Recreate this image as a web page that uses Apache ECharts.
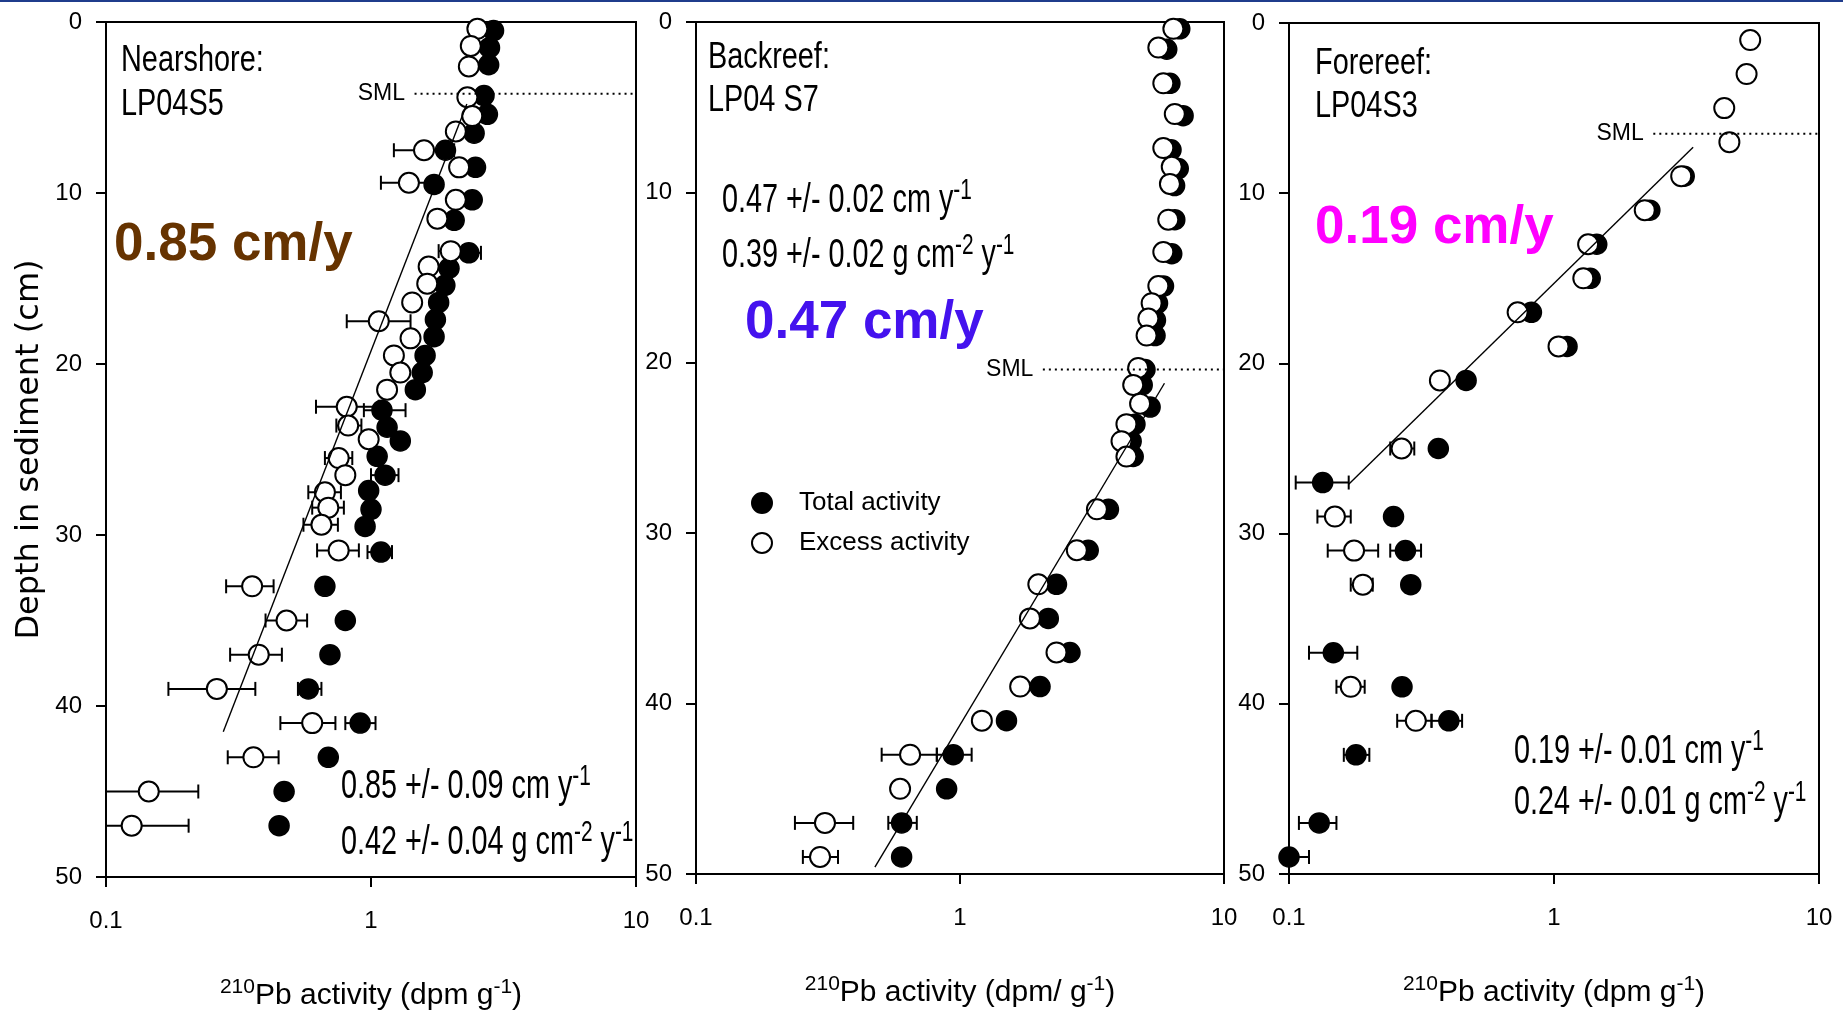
<!DOCTYPE html>
<html>
<head>
<meta charset="utf-8">
<title>210Pb activity profiles</title>
<script src="https://cdn.jsdelivr.net/npm/echarts@6/dist/echarts.min.js"></script>
<style>
  html, body { margin: 0; padding: 0; background: #ffffff; }
  #chart { width: 1843px; height: 1023px; }
</style>
</head>
<body>
<div id="chart"></div>
<script>
// ---- Data: [210Pb activity (dpm/g), depth (cm)] ----
const nearshoreTotal = [
  [2.90, 0.5], [2.80, 1.5], [2.78, 2.5], [2.67, 4.3], [2.75, 5.4], [2.45, 6.5], [1.91, 7.5],
  [2.48, 8.5], [1.73, 9.5], [2.41, 10.4], [2.06, 11.6], [2.34, 13.5], [1.97, 14.4], [1.90, 15.4],
  [1.80, 16.4], [1.75, 17.4], [1.73, 18.4], [1.60, 19.5], [1.56, 20.5], [1.47, 21.5], [1.10, 22.7],
  [1.15, 23.7], [1.29, 24.5], [1.055, 25.4], [1.13, 26.5], [0.98, 27.4], [1.00, 28.5], [0.95, 29.5],
  [1.09, 31], [0.67, 33], [0.80, 35], [0.70, 37], [0.58, 39], [0.91, 41], [0.69, 43], [0.47, 45], [0.45, 47]
];
const nearshoreExcess = [
  [2.52, 0.4], [2.38, 1.4], [2.34, 2.6], [2.31, 4.4], [2.41, 5.5], [2.09, 6.4], [1.585, 7.5],
  [2.15, 8.5], [1.39, 9.4], [2.09, 10.4], [1.78, 11.5], [2.00, 13.4], [1.65, 14.3], [1.63, 15.3],
  [1.43, 16.4], [1.07, 17.5], [1.41, 18.5], [1.22, 19.5], [1.29, 20.5], [1.15, 21.5], [0.81, 22.5],
  [0.82, 23.6], [0.98, 24.4], [0.755, 25.5], [0.80, 26.5], [0.67, 27.5], [0.69, 28.4], [0.65, 29.4],
  [0.755, 30.9], [0.356, 33], [0.48, 35], [0.377, 37], [0.262, 39], [0.60, 41], [0.36, 43], [0.145, 45], [0.125, 47]
];
// error bars: [depth, low, high]
const nearshoreTotalErr = [
  [13.5, 2.10, 2.60], [22.7, 0.94, 1.35], [26.5, 1.00, 1.27], [31, 0.97, 1.20], [39, 0.53, 0.65], [41, 0.80, 1.04]
];
const nearshoreExcessErr = [
  [7.5, 1.22, 2.06], [9.4, 1.09, 1.77], [13.4, 1.80, 2.22], [17.5, 0.81, 1.41], [22.5, 0.62, 1.07],
  [23.6, 0.74, 0.92], [25.5, 0.67, 0.85], [27.5, 0.58, 0.77], [28.4, 0.60, 0.79], [29.4, 0.556, 0.75],
  [30.9, 0.626, 0.90], [33, 0.284, 0.429], [35, 0.40, 0.574], [37, 0.294, 0.461], [39, 0.172, 0.366],
  [41, 0.455, 0.734], [43, 0.288, 0.448], [45, 0.10, 0.223], [47, 0.10, 0.205]
];
const nearshoreFit = [[2.30, 4.8], [0.277, 41.5]];
const nearshoreSml = [[1.46, 4.2], [10, 4.2]];

const backreefTotal = [
  [6.80, 0.4], [6.07, 1.6], [6.24, 3.6], [7.00, 5.5], [6.30, 7.5], [6.71, 8.6], [6.50, 9.6],
  [6.51, 11.6], [6.34, 13.6], [5.90, 15.5], [5.60, 16.5], [5.50, 17.5], [5.48, 18.4], [5.02, 20.4],
  [4.90, 21.3], [5.25, 22.6], [4.60, 23.6], [4.45, 24.6], [4.53, 25.5], [3.65, 28.6], [3.06, 31],
  [2.32, 33], [2.16, 35], [2.61, 37], [2.01, 39], [1.50, 41], [0.943, 43], [0.89, 45], [0.601, 47], [0.601, 49]
];
const backreefExcess = [
  [6.43, 0.4], [5.64, 1.5], [5.89, 3.6], [6.51, 5.4], [5.89, 7.4], [6.34, 8.5], [6.24, 9.5],
  [6.15, 11.6], [5.89, 13.5], [5.64, 15.5], [5.32, 16.5], [5.17, 17.4], [5.09, 18.4], [4.73, 20.3],
  [4.53, 21.3], [4.81, 22.4], [4.27, 23.6], [4.09, 24.6], [4.27, 25.5], [3.30, 28.6], [2.77, 31],
  [1.98, 33], [1.84, 35], [2.32, 37], [1.69, 39], [1.21, 41], [0.647, 43], [0.593, 45], [0.308, 47], [0.295, 49]
];
const backreefTotalErr = [[43, 0.817, 1.107], [47, 0.535, 0.686]];
const backreefExcessErr = [[43, 0.505, 0.817], [45, 0.56, 0.63], [47, 0.237, 0.394], [49, 0.254, 0.345]];
const backreefFit = [[5.95, 21.2], [0.476, 49.6]];
const backreefSml = [[2.06, 20.4], [10, 20.4]];

const forereefTotal = [
  [3.10, 9], [2.30, 11], [1.45, 13], [1.37, 15], [0.822, 17], [1.12, 19], [0.466, 21], [0.366, 25],
  [0.134, 27], [0.248, 29], [0.275, 31], [0.288, 33], [0.147, 37], [0.267, 39], [0.401, 41],
  [0.179, 43], [0.130, 47], [0.100, 49]
];
const forereefExcess = [
  [5.50, 1], [5.33, 3], [4.39, 5], [4.59, 7], [3.02, 9], [2.20, 11], [1.345, 13], [1.29, 15],
  [0.729, 17], [1.04, 19], [0.371, 21], [0.266, 25], [0.149, 29], [0.176, 31], [0.190, 33],
  [0.171, 39], [0.301, 41]
];
const forereefTotalErr = [
  [27, 0.106, 0.168], [31, 0.241, 0.315], [37, 0.119, 0.181], [41, 0.345, 0.45], [43, 0.161, 0.201],
  [47, 0.109, 0.151], [49, 0.100, 0.119]
];
const forereefExcessErr = [
  [25, 0.241, 0.297], [29, 0.128, 0.171], [31, 0.140, 0.217], [33, 0.171, 0.207], [39, 0.151, 0.193], [41, 0.256, 0.345]
];
const forereefFit = [[3.35, 7.3], [0.168, 27.1]];
const forereefSml = [[2.37, 6.5], [10, 6.5]];

const depthTicks = [0, 10, 20, 30, 40, 50];
const activityRange = [0.1, 10];

// ---- Styling ----
const SANS = "'Liberation Sans',Arial,sans-serif";
const NARROW_SCALE = 0.72;   // horizontal squeeze used for the condensed text blocks

const panels = [
  {
    grid: { left: 106, top: 22, width: 530, height: 855 },
    total: nearshoreTotal, excess: nearshoreExcess,
    totalErr: nearshoreTotalErr, excessErr: nearshoreExcessErr,
    fit: nearshoreFit, sml: nearshoreSml,
    xName: '{s|210}Pb activity (dpm g{s|-1})'
  },
  {
    grid: { left: 696, top: 22, width: 528, height: 852 },
    total: backreefTotal, excess: backreefExcess,
    totalErr: backreefTotalErr, excessErr: backreefExcessErr,
    fit: backreefFit, sml: backreefSml,
    xName: '{s|210}Pb activity (dpm/ g{s|-1})'
  },
  {
    grid: { left: 1289, top: 23, width: 530, height: 851 },
    total: forereefTotal, excess: forereefExcess,
    totalErr: forereefTotalErr, excessErr: forereefExcessErr,
    fit: forereefFit, sml: forereefSml,
    xName: '{s|210}Pb activity (dpm g{s|-1})'
  }
];

const axisLineStyle = { color: '#000', width: 2 };

const grids = [], xAxes = [], yAxes = [], series = [];

panels.forEach((p, i) => {
  grids.push(Object.assign({ show: true, borderColor: '#000', borderWidth: 2, backgroundColor: 'transparent' }, p.grid));

  xAxes.push({
    gridIndex: i, type: 'log', logBase: 10,
    min: activityRange[0], max: activityRange[1],
    axisLine: { show: true, onZero: false, lineStyle: axisLineStyle },
    axisTick: { show: true, inside: false, length: 10, lineStyle: axisLineStyle },
    minorTick: { show: false },
    splitLine: { show: false },
    axisLabel: {
      margin: 32, color: '#000', fontFamily: SANS, fontSize: 24,
      formatter: v => (v < 0.5 ? '0.1' : String(Math.round(v)))
    },
    name: p.xName,
    nameLocation: 'middle',
    nameGap: 100,
    nameTextStyle: {
      color: '#000', fontFamily: SANS, fontSize: 30, lineHeight: 38,
      rich: { s: { fontFamily: SANS, fontSize: 21, lineHeight: 21, verticalAlign: 'top', color: '#000' } }
    }
  });

  yAxes.push({
    gridIndex: i, type: 'value', inverse: true,
    min: depthTicks[0], max: depthTicks[depthTicks.length - 1], interval: 10,
    axisLine: { show: true, onZero: false, lineStyle: axisLineStyle },
    axisTick: { show: true, inside: false, length: 10, lineStyle: axisLineStyle },
    splitLine: { show: false },
    axisLabel: { margin: 24, color: '#000', fontFamily: SANS, fontSize: 24 },
    name: i === 0 ? 'Depth in sediment (cm)' : '',
    nameLocation: 'middle',
    nameRotate: 90,
    nameGap: 60,
    nameTextStyle: { color: '#000', fontFamily: "'DejaVu Sans',sans-serif", fontSize: 32 }
  });

  // horizontal error bars with end caps
  const errorBars = (data) => ({
    type: 'custom',
    xAxisIndex: i, yAxisIndex: i,
    data: data,
    encode: { x: [1, 2], y: 0 },
    z: 2,
    silent: true,
    renderItem: (params, api) => {
      const d = api.value(0);
      const a = api.coord([api.value(1), d]);
      const b = api.coord([api.value(2), d]);
      const h = 7;
      const st = { stroke: '#000', lineWidth: 2 };
      return {
        type: 'group',
        children: [
          { type: 'line', shape: { x1: a[0], y1: a[1], x2: b[0], y2: b[1] }, style: st },
          { type: 'line', shape: { x1: a[0], y1: a[1] - h, x2: a[0], y2: a[1] + h }, style: st },
          { type: 'line', shape: { x1: b[0], y1: b[1] - h, x2: b[0], y2: b[1] + h }, style: st }
        ]
      };
    }
  });

  series.push(errorBars(p.totalErr));
  series.push(errorBars(p.excessErr));

  series.push({
    name: 'Total activity', type: 'scatter',
    xAxisIndex: i, yAxisIndex: i,
    data: p.total, symbol: 'circle', symbolSize: 20, z: 3,
    itemStyle: { color: '#000', borderColor: '#000', borderWidth: 1.5, opacity: 1 }
  });
  series.push({
    name: 'Excess activity', type: 'scatter',
    xAxisIndex: i, yAxisIndex: i,
    data: p.excess, symbol: 'circle', symbolSize: 20, z: 4,
    itemStyle: { color: '#fff', borderColor: '#000', borderWidth: 2, opacity: 1 }
  });

  // least-squares fit through the excess profile
  series.push({
    type: 'line', xAxisIndex: i, yAxisIndex: i,
    data: p.fit, symbol: 'none', z: 6, silent: true,
    lineStyle: { color: '#000', width: 1.4 }
  });

  // surface mixed layer
  series.push({
    type: 'line', xAxisIndex: i, yAxisIndex: i,
    data: [
      { value: p.sml[0], label: { show: true, position: 'left', distance: 9, formatter: 'SML',
        color: '#000', fontFamily: SANS, fontSize: 23 } },
      { value: p.sml[1] }
    ],
    symbol: 'circle', symbolSize: 1, showSymbol: true, z: 5, silent: true,
    itemStyle: { color: 'rgba(0,0,0,0)' },
    lineStyle: { color: '#000', width: 2, type: [2, 4] }
  });
});

const supRich = { s: { fontFamily: SANS, fontSize: 29, lineHeight: 29, verticalAlign: 'top', fill: '#000' } };
const noteText = (x, y, text) => ({
  type: 'text', x: x, y: y, scaleX: NARROW_SCALE, silent: true,
  style: { text: text, fontFamily: SANS, fontSize: 40, lineHeight: 50, fill: '#000',
           align: 'left', verticalAlign: 'middle', rich: supRich }
});
const siteText = (x, y, text) => ({
  type: 'text', x: x, y: y, scaleX: 0.78, silent: true,
  style: { text: text, fontFamily: SANS, fontSize: 37, fill: '#000', align: 'left', verticalAlign: 'middle' }
});
const rateText = (x, y, text, color) => ({
  type: 'text', x: x, y: y, silent: true,
  style: { text: text, fontFamily: SANS, fontWeight: 'bold', fontSize: 53, fill: color, align: 'left', verticalAlign: 'middle' }
});

const graphics = [
  { type: 'rect', shape: { x: 0, y: 0, width: 1843, height: 2 }, style: { fill: '#1F3C8C' }, silent: true },

  siteText(121, 61, 'Nearshore:'), siteText(121, 105, 'LP04S5'),
  siteText(708, 58, 'Backreef:'), siteText(708, 101, 'LP04 S7'),
  siteText(1315, 64, 'Forereef:'), siteText(1315, 107, 'LP04S3'),

  rateText(114, 245, '0.85 cm/y', '#663300'),
  rateText(745, 323, '0.47 cm/y', '#4412EE'),
  rateText(1315, 228, '0.19 cm/y', '#FF00FF'),

  noteText(341, 787, '0.85 +/- 0.09 cm y{s|-1}'),
  noteText(341, 843, '0.42 +/- 0.04 g cm{s|-2} y{s|-1}'),
  noteText(722, 201, '0.47 +/- 0.02 cm y{s|-1}'),
  noteText(722, 256, '0.39 +/- 0.02 g cm{s|-2} y{s|-1}'),
  noteText(1514, 752, '0.19 +/- 0.01 cm y{s|-1}'),
  noteText(1514, 803, '0.24 +/- 0.01 g cm{s|-2} y{s|-1}')
];

const chart = echarts.init(document.getElementById('chart'), null, { renderer: 'canvas' });
chart.setOption({
  animation: false,
  backgroundColor: '#ffffff',
  grid: grids,
  xAxis: xAxes,
  yAxis: yAxes,
  legend: {
    data: ['Total activity', 'Excess activity'],
    orient: 'vertical',
    left: 746, top: 484,
    icon: 'circle',
    itemWidth: 20, itemHeight: 20, itemGap: 12,
    selectedMode: false,
    textStyle: { color: '#000', fontFamily: SANS, fontSize: 26, lineHeight: 28, padding: [0, 0, 0, 22] }
  },
  series: series,
  graphic: graphics
});
</script>
</body>
</html>
